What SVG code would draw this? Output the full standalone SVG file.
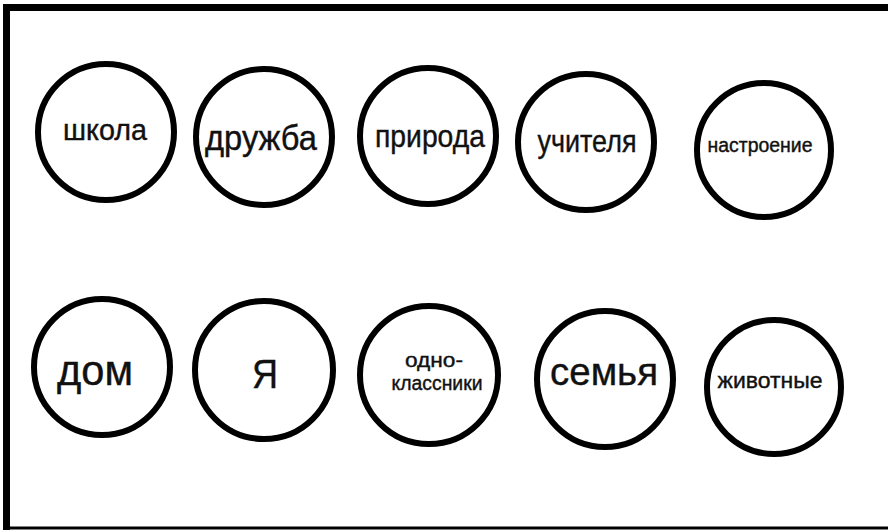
<svg xmlns="http://www.w3.org/2000/svg" width="888" height="530" viewBox="0 0 888 530">
<style>
.n circle{fill:#fff;stroke:#000;stroke-width:6}
.n text{font-family:"Liberation Sans",Arial,sans-serif;fill:#111;stroke:#111;stroke-width:0.4;text-anchor:middle}
</style>
<rect x="0" y="0" width="888" height="530" fill="#fff"/>
<path d="M6.5,530 V7.5 H888" fill="none" stroke="#000" stroke-width="7"/>
<line x1="6" y1="528" x2="888" y2="528" stroke="#000" stroke-width="3"/>
<g id="connectors"/>
<g id="n-shkola" class="n"><circle cx="106" cy="132" r="68"/><text x="105" y="140" font-size="29" textLength="84" lengthAdjust="spacingAndGlyphs">школа</text></g>
<g id="n-druzhba" class="n"><circle cx="264" cy="137" r="68"/><text x="261" y="150" font-size="35" textLength="112" lengthAdjust="spacingAndGlyphs">дружба</text></g>
<g id="n-priroda" class="n"><circle cx="428" cy="136" r="68"/><text x="430" y="147" font-size="31" textLength="110" lengthAdjust="spacingAndGlyphs">природа</text></g>
<g id="n-uchitelya" class="n"><circle cx="586" cy="142" r="68"/><text x="587" y="152" font-size="32" textLength="99" lengthAdjust="spacingAndGlyphs">учителя</text></g>
<g id="n-nastroenie" class="n"><circle cx="764" cy="150" r="67"/><text x="760" y="152" font-size="20" textLength="105" lengthAdjust="spacingAndGlyphs">настроение</text></g>
<g id="n-dom" class="n"><circle cx="102" cy="367" r="68"/><text x="95" y="385" font-size="42" textLength="76" lengthAdjust="spacingAndGlyphs">дом</text></g>
<g id="n-ya" class="n"><circle cx="264" cy="370" r="69"/><text x="265" y="388" font-size="40" textLength="26" lengthAdjust="spacingAndGlyphs">Я</text></g>
<g id="n-odnoklassniki" class="n"><circle cx="429" cy="375" r="69"/><text x="434" y="367" font-size="20" textLength="58" lengthAdjust="spacingAndGlyphs">одно-</text><text x="437" y="390" font-size="20" textLength="91" lengthAdjust="spacingAndGlyphs">классники</text></g>
<g id="n-semya" class="n"><circle cx="605" cy="379" r="68"/><text x="604" y="385" font-size="39" textLength="108" lengthAdjust="spacingAndGlyphs">семья</text></g>
<g id="n-zhivotnye" class="n"><circle cx="774" cy="387" r="67"/><text x="770" y="388" font-size="22" textLength="105" lengthAdjust="spacingAndGlyphs">животные</text></g>
</svg>
